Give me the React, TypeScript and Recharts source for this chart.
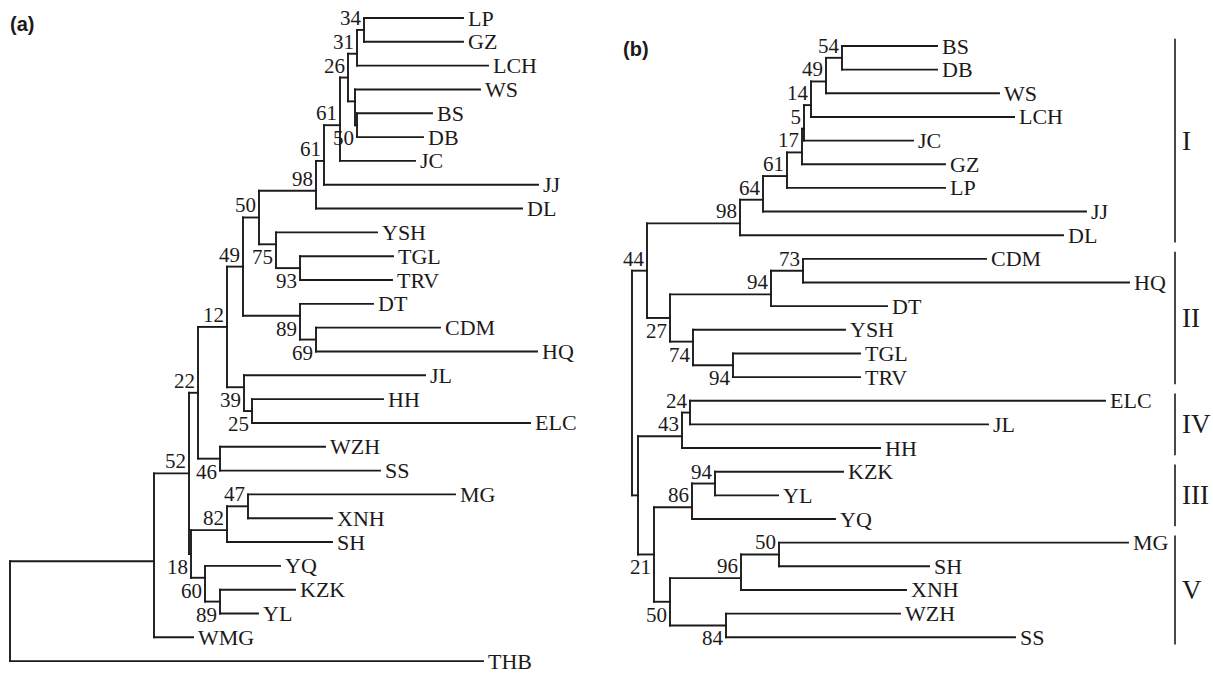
import React from "react";
import { ComposedChart, Scatter, XAxis, YAxis, ReferenceLine } from "recharts";

type NodeRow = [string, string, number, string[]]; // id, bootstrap, depth from root, children (top to bottom)

/* ---------- (a) tree, tips listed top to bottom ---------- */
const leavesA = [
  "LP", "GZ", "LCH", "WS", "BS", "DB", "JC", "JJ", "DL", "YSH", "TGL", "TRV", "DT", "CDM",
  "HQ", "JL", "HH", "ELC", "WZH", "SS", "MG", "XNH", "SH", "YQ", "KZK", "YL", "WMG", "THB",
];
const tipDepthA = [
  453, 453, 478, 470, 422, 413, 405, 528, 512, 367, 383, 382, 363, 430,
  527, 415, 373, 520, 315, 370, 445, 322, 322, 270, 285, 248, 183, 473,
];
const nodesA: NodeRow[] = [
  ["a34", "34", 354, ["LP", "GZ"]],
  ["a31", "31", 347, ["a34", "LCH"]],
  ["aBD", "50", 347, ["BS", "DB"]],
  ["aWS", "", 345, ["WS", "aBD"]],
  ["a26", "26", 338, ["a31", "aWS"]],
  ["a61x", "61", 330, ["a26", "JC"]],
  ["a61", "61", 314, ["a61x", "JJ"]],
  ["a98", "98", 306, ["a61", "DL"]],
  ["a93", "93", 290, ["TGL", "TRV"]],
  ["a75", "75", 266, ["YSH", "a93"]],
  ["a50", "50", 249, ["a98", "a75"]],
  ["a69", "69", 306, ["CDM", "HQ"]],
  ["a89", "89", 290, ["DT", "a69"]],
  ["a49", "49", 233, ["a50", "a89"]],
  ["a25", "25", 242, ["HH", "ELC"]],
  ["a39", "39", 234, ["JL", "a25"]],
  ["a12", "12", 217, ["a49", "a39"]],
  ["a46", "46", 210, ["WZH", "SS"]],
  ["a22", "22", 188, ["a12", "a46"]],
  ["a47", "47", 238, ["MG", "XNH"]],
  ["a82", "82", 217, ["a47", "SH"]],
  ["a89b", "89", 210, ["KZK", "YL"]],
  ["a60", "60", 195, ["YQ", "a89b"]],
  ["a18", "18", 181, ["a82", "a60"]],
  ["a52", "52", 179, ["a22", "a18"]],
  ["aW", "", 144, ["a52", "WMG"]],
  ["aRoot", "", 0, ["aW", "THB"]],
];

/* ---------- (b) tree ---------- */
const leavesB = [
  "BS", "DB", "WS", "LCH", "JC", "GZ", "LP", "JJ", "DL", "CDM", "HQ", "DT", "YSH",
  "TGL", "TRV", "ELC", "JL", "HH", "KZK", "YL", "YQ", "MG", "SH", "XNH", "WZH", "SS",
];
const tipDepthB = [
  305, 305, 367, 382, 281, 313, 313, 454, 431, 354, 497, 255, 213,
  228, 228, 473, 356, 248, 211, 146, 203, 496, 297, 274, 268, 383,
];
const nodesB: NodeRow[] = [
  ["b54", "54", 210, ["BS", "DB"]],
  ["b49", "49", 194, ["b54", "WS"]],
  ["b14", "14", 179, ["b49", "LCH"]],
  ["b5", "5", 172, ["b14", "JC"]],
  ["b17", "17", 170, ["b5", "GZ"]],
  ["b61", "61", 155, ["b17", "LP"]],
  ["b64", "64", 131, ["b61", "JJ"]],
  ["b98", "98", 108, ["b64", "DL"]],
  ["b73", "73", 171, ["CDM", "HQ"]],
  ["b94a", "94", 139, ["b73", "DT"]],
  ["b94b", "94", 101, ["TGL", "TRV"]],
  ["b74", "74", 61, ["YSH", "b94b"]],
  ["b27", "27", 38, ["b94a", "b74"]],
  ["b44", "44", 15, ["b98", "b27"]],
  ["b24", "24", 58, ["ELC", "JL"]],
  ["b43", "43", 50, ["b24", "HH"]],
  ["b94c", "94", 83, ["KZK", "YL"]],
  ["b86", "86", 60, ["b94c", "YQ"]],
  ["b50a", "50", 147, ["MG", "SH"]],
  ["b96", "96", 109, ["b50a", "XNH"]],
  ["b84", "84", 94, ["WZH", "SS"]],
  ["b50b", "50", 38, ["b96", "b84"]],
  ["b21", "21", 22, ["b86", "b50b"]],
  ["bR2", "", 6, ["b43", "b21"]],
  ["bRoot", "", 0, ["b44", "bR2"]],
];

const cladeNames = ["I", "II", "IV", "III", "V"];
const cladeFirst = ["BS", "CDM", "ELC", "KZK", "MG"];
const cladeLast = ["DL", "TRV", "HH", "YQ", "SS"];

const INK = "#1d1a1a";
const SERIF = "'Liberation Serif', 'Times New Roman', serif";
const SANS = "'Liberation Sans', Arial, sans-serif";
const H = 673;

// layout constants (pixels)
const A = { left: 0, width: 600, rootX: 10, top: 18, row: 23.82 };
const B = { left: 600, width: 613, rootX: 32, top: 46, row: 23.65 };
const CLADE_X = 543;

/* Build line segments + label points; node sits between its children,
   nudged a quarter row toward a tip child when the other child is a clade */
function buildTree(leaves: string[], tips: number[], nodes: NodeRow[]) {
  const yOf = new Map<string, number>();
  const xOf = new Map<string, number>();
  const isLeaf = new Set(leaves);
  const parent = new Map<string, boolean>(); // true = top child
  leaves.forEach((n, i) => { yOf.set(n, i); xOf.set(n, tips[i]); });
  const segs: { x1: number; y1: number; x2: number; y2: number }[] = [];
  nodes.forEach(([id, , depth, kids]) => {
    const top = kids[0], bot = kids[kids.length - 1];
    const a = yOf.get(top)!, b = yOf.get(bot)!;
    let y = (a + b) / 2;
    if (isLeaf.has(top) && !isLeaf.has(bot)) y -= 0.25;
    if (isLeaf.has(bot) && !isLeaf.has(top)) y += 0.25;
    yOf.set(id, y);
    xOf.set(id, depth);
    kids.forEach((k, j) => parent.set(k, j === 0));
    segs.push({ x1: depth, y1: a, x2: depth, y2: b });
    kids.forEach((k) => segs.push({ x1: depth, y1: yOf.get(k)!, x2: xOf.get(k)!, y2: yOf.get(k)! }));
  });
  const supports = nodes
    .filter((n) => n[1])
    .map(([id, sup, depth]) => ({ x: depth, y: yOf.get(id)!, text: sup, below: parent.get(id) === false }));
  const tipPts = leaves.map((n, i) => ({ x: tips[i], y: i, text: n }));
  return { segs, supports, tipPts };
}

const TipLabel = (p: any) => (
  <text x={p.cx + 5} y={p.cy} dominantBaseline="central" fontSize={22} fontFamily={SERIF} fill={INK}>
    {p.payload.text}
  </text>
);

const SupportLabel = (p: any) => (
  <text
    x={p.cx - 3}
    y={p.cy + (p.payload.below ? 13 : -12)}
    textAnchor="end"
    dominantBaseline="central"
    fontSize={21}
    fontFamily={SERIF}
    fill={INK}
  >
    {p.payload.text}
  </text>
);

const CladeLabel = (p: any) => (
  <text x={p.cx + 7} y={p.cy} dominantBaseline="central" fontSize={27} fontFamily={SERIF} fill={INK}>
    {p.payload.text}
  </text>
);

function TreePanel({ tree, box, extraSegs = [], clades = [] }: any) {
  const lo = -box.top / box.row;
  const hi = lo + H / box.row;
  const all = [...tree.segs.map((s: any) => ({ ...s, w: 1.9 })), ...extraSegs];
  return (
    <div style={{ position: "absolute", left: box.left, top: 0 }}>
      <ComposedChart width={box.width} height={H} margin={{ top: 0, right: 0, bottom: 0, left: 0 }}>
        <XAxis type="number" dataKey="x" domain={[-box.rootX, box.width - box.rootX]} hide />
        <YAxis type="number" dataKey="y" domain={[lo, hi]} reversed hide />
        {all.map((s: any, i: number) => (
          <ReferenceLine
            key={i}
            segment={[{ x: s.x1, y: s.y1 }, { x: s.x2, y: s.y2 }]}
            stroke={INK}
            strokeWidth={s.w}
            strokeLinecap="square"
            ifOverflow="visible"
          />
        ))}
        <Scatter data={tree.tipPts} shape={TipLabel} isAnimationActive={false} />
        <Scatter data={tree.supports} shape={SupportLabel} isAnimationActive={false} />
        {clades.length > 0 && <Scatter data={clades} shape={CladeLabel} isAnimationActive={false} />}
      </ComposedChart>
    </div>
  );
}

export default function App() {
  const treeA = buildTree(leavesA, tipDepthA, nodesA);
  const treeB = buildTree(leavesB, tipDepthB, nodesB);

  const cladeSegs = cladeNames.map((_, i) => ({
    x1: CLADE_X, x2: CLADE_X,
    y1: leavesB.indexOf(cladeFirst[i]) - 0.27,
    y2: leavesB.indexOf(cladeLast[i]) + 0.27,
    w: 1.6,
  }));
  const cladePts = cladeNames.map((name, i) => ({
    x: CLADE_X,
    y: (leavesB.indexOf(cladeFirst[i]) + leavesB.indexOf(cladeLast[i])) / 2,
    text: name,
  }));

  const title = { position: "absolute" as const, fontFamily: SANS, fontWeight: 700, fontSize: 20, lineHeight: "20px", color: INK };

  return (
    <div style={{ position: "absolute", left: 0, top: 0, width: 1213, height: H, background: "#fff", overflow: "hidden" }}>
      <TreePanel tree={treeA} box={A} />
      <TreePanel tree={treeB} box={B} extraSegs={cladeSegs} clades={cladePts} />
      <div style={{ ...title, left: 10, top: 14 }}>(a)</div>
      <div style={{ ...title, left: 623, top: 39 }}>(b)</div>
    </div>
  );
}
